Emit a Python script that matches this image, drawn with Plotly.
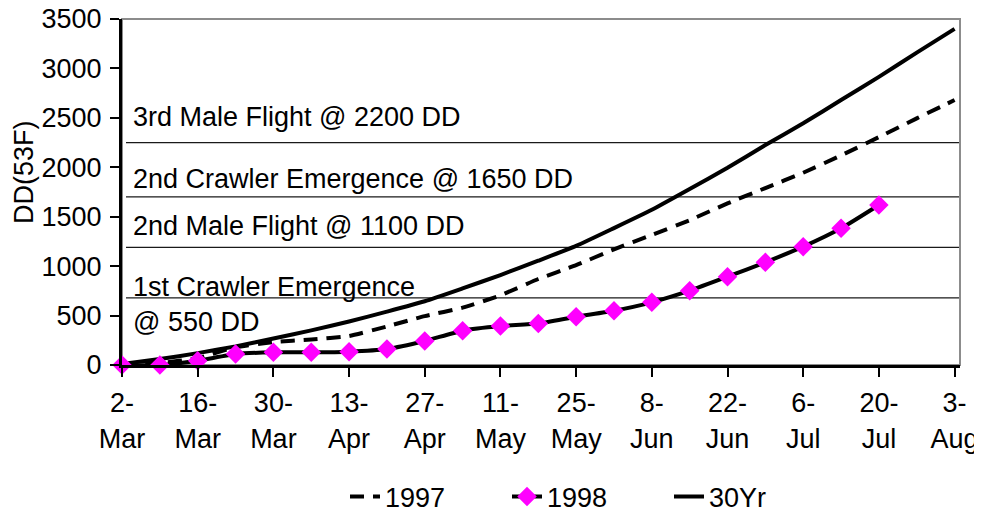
import plotly.graph_objects as go

# ---- data ----
dates = ["1998-03-02", "1998-03-09", "1998-03-16", "1998-03-23", "1998-03-30",
         "1998-04-06", "1998-04-13", "1998-04-20", "1998-04-27", "1998-05-04",
         "1998-05-11", "1998-05-18", "1998-05-25", "1998-06-01", "1998-06-08",
         "1998-06-15", "1998-06-22", "1998-06-29", "1998-07-06", "1998-07-13",
         "1998-07-20", "1998-07-27", "1998-08-03"]

dd_1997 = [0, 20, 70, 180, 232, 258, 293, 390, 495, 580, 705, 870, 1010, 1170,
           1315, 1465, 1635, 1790, 1945, 2120, 2305, 2495, 2680]
dd_1998 = [0, 0, 43, 111, 128, 128, 135, 162, 243, 347, 394, 420, 489, 549,
           634, 752, 893, 1039, 1197, 1383, 1619]
dd_30yr = [10, 60, 120, 188, 268, 350, 440, 540, 645, 775, 910, 1055, 1205, 1385,
           1570, 1780, 1995, 2225, 2445, 2680, 2915, 3160, 3400]

tick_dates = ["1998-03-02", "1998-03-16", "1998-03-30", "1998-04-13", "1998-04-27",
              "1998-05-11", "1998-05-25", "1998-06-08", "1998-06-22", "1998-07-06",
              "1998-07-20", "1998-08-03"]
tick_labels = ["2-<br>Mar", "16-<br>Mar", "30-<br>Mar", "13-<br>Apr", "27-<br>Apr",
               "11-<br>May", "25-<br>May", "8-<br>Jun", "22-<br>Jun", "6-<br>Jul",
               "20-<br>Jul", "3-<br>Aug"]
y_ticks = [0, 500, 1000, 1500, 2000, 2500, 3000, 3500]

event_labels = ["3rd Male Flight @ 2200 DD", "2nd Crawler Emergence @ 1650 DD",
                "2nd Male Flight @ 1100 DD", "1st Crawler Emergence<br>@ 550 DD"]
event_lines = [2250, 1700, 1190, 680]

FONT = "Liberation Sans, Arial, sans-serif"
FS = 27

# page body has an 8px margin, so the figure is laid out 8px smaller
OFF = 8
W, H = 982 - OFF, 525 - OFF
L, T = 122 - OFF, 19 - OFF
R = W - (960 - OFF)
B = H - (365 - OFF)
pw = W - L - R
ph = H - T - B

fig = go.Figure()
fig.add_trace(go.Scatter(x=dates, y=dd_1997, name="1997", mode="lines", legendrank=1,
                         line=dict(color="black", width=4, dash="14px,9px", shape="spline", smoothing=0.5)))
fig.add_trace(go.Scatter(x=dates, y=dd_30yr, name="30Yr", mode="lines", legendrank=3,
                         line=dict(color="black", width=4, shape="spline", smoothing=0.5)))
fig.add_trace(go.Scatter(x=dates[:len(dd_1998)], y=dd_1998, name="1998", mode="lines+markers",
                         legendrank=2, cliponaxis=False,
                         line=dict(color="black", width=4, shape="spline", smoothing=0.5),
                         marker=dict(symbol="diamond", size=15, color="#FF00FF",
                                     line=dict(width=0))))

# threshold lines
for v in event_lines:
    fig.add_shape(type="line", xref="paper", yref="y", x0=4 / pw, x1=1, y0=v, y1=v,
                  line=dict(color="#1a1a1a", width=1.3), layer="below")

# plot border (grey top/right)
fig.add_shape(type="rect", xref="paper", yref="paper", x0=0, x1=1, y0=0, y1=1,
              line=dict(color="#8c8c8c", width=2), layer="below")

# event label texts (page pixel centre -> data value)
def py2v(py_page):
    return (365 - py_page) / ph * 3500

label_pos = [117, 178.5, 225.5, 304]
for txt, py in zip(event_labels, label_pos):
    fig.add_annotation(text=txt, xref="paper", yref="y", x=(130.5 - 122) / pw, y=py2v(py),
                       xanchor="left", yanchor="middle", showarrow=False, align="left",
                       font=dict(family=FONT, size=FS, color="black"))

# y axis title
fig.add_annotation(text="DD(53F)", xref="paper", yref="paper", x=(24 - 122) / pw,
                   y=(365 - 172) / ph, textangle=-90, showarrow=False,
                   xanchor="center", yanchor="middle",
                   font=dict(family=FONT, size=FS, color="black"))

fig.update_layout(
    width=W, height=H,
    margin=dict(l=L, r=R, t=T, b=B, pad=0, autoexpand=False),
    paper_bgcolor="white", plot_bgcolor="rgba(0,0,0,0)",
    font=dict(family=FONT, size=FS, color="black"),
    showlegend=True,
    legend=dict(orientation="h", xref="container", yref="container",
                x=(345 - OFF) / W, xanchor="left", y=1 - (497 - OFF) / H, yanchor="middle",
                entrywidth=117, entrywidthmode="pixels",
                font=dict(family=FONT, size=FS, color="black"),
                bgcolor="rgba(0,0,0,0)"),
    xaxis=dict(type="date", range=["1998-03-02", "1998-08-04"],
               tickmode="array", tickvals=tick_dates, ticktext=tick_labels,
               showgrid=False, zeroline=False, showline=True, linecolor="black",
               linewidth=3, ticks="outside", ticklen=9, tickwidth=2, tickcolor="black",
               automargin=False, ticklabelstandoff=3, ticklabeloverflow="allow",
               tickfont=dict(family=FONT, size=FS, color="black"), tickangle=0),
    yaxis=dict(range=[0, 3500], tickmode="array", tickvals=y_ticks,
               showgrid=False, zeroline=False, showline=True, linecolor="black",
               linewidth=3, ticks="outside", ticklen=9, tickwidth=2, tickcolor="black",
               ticklabelstandoff=3, automargin=False, ticklabeloverflow="allow",
               tickfont=dict(family=FONT, size=FS, color="black")),
)

fig.write_html("out.html")
